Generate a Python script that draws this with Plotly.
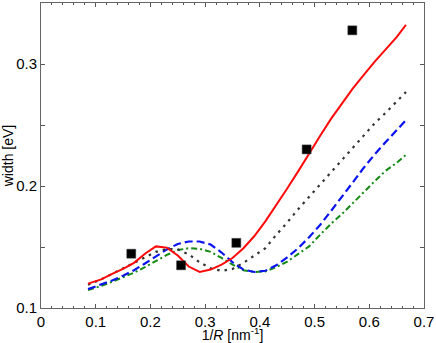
import plotly.graph_objects as go

x_curve = [0.086, 0.11, 0.13, 0.15, 0.17, 0.19, 0.21, 0.23, 0.25, 0.27, 0.29, 0.31,
           0.33, 0.35, 0.37, 0.39, 0.41, 0.43, 0.45, 0.47, 0.49, 0.51, 0.53, 0.55,
           0.57, 0.59, 0.61, 0.63, 0.65, 0.667]
red = [0.120, 0.1235, 0.128, 0.132, 0.137, 0.1445, 0.1505, 0.1495, 0.143, 0.134, 0.1295, 0.1315,
       0.1355, 0.141, 0.149, 0.159, 0.171, 0.184, 0.198, 0.212, 0.227, 0.241, 0.255, 0.268,
       0.280, 0.291, 0.302, 0.312, 0.322, 0.332]
black = [0.119, 0.1235, 0.128, 0.1325, 0.137, 0.1415, 0.146, 0.1485, 0.148, 0.144, 0.1375, 0.1325,
         0.1305, 0.132, 0.137, 0.143, 0.149, 0.160, 0.170, 0.181, 0.191, 0.201, 0.211, 0.221,
         0.231, 0.2415, 0.2515, 0.260, 0.269, 0.277]
blue = [0.1155, 0.119, 0.1225, 0.1265, 0.131, 0.1365, 0.1425, 0.148, 0.1525, 0.1545, 0.1545, 0.152,
        0.1455, 0.1375, 0.1315, 0.1295, 0.1305, 0.135, 0.1415, 0.149, 0.158, 0.168, 0.1795, 0.191,
        0.203, 0.215, 0.226, 0.236, 0.2455, 0.254]
green = [0.1148, 0.118, 0.1215, 0.125, 0.129, 0.1335, 0.1385, 0.1435, 0.1475, 0.149, 0.1485, 0.146,
         0.141, 0.1355, 0.131, 0.1295, 0.130, 0.1335, 0.138, 0.144, 0.1505, 0.160, 0.169, 0.177,
         0.186, 0.1955, 0.204, 0.2125, 0.219, 0.2255]

x_exp = [0.165, 0.256, 0.357, 0.4855, 0.569]
y_exp = [0.1445, 0.135, 0.1534, 0.230, 0.3276]

x_ticks = [0, 0.1, 0.2, 0.3, 0.4, 0.5, 0.6, 0.7]
x_ticklabels = ["0", "0.1", "0.2", "0.3", "0.4", "0.5", "0.6", "0.7"]
y_ticks = [0.1, 0.15, 0.2, 0.25, 0.3, 0.35]
y_ticklabels = ["0.1", "", "0.2", "", "0.3", ""]

FONT = "Liberation Sans, Arial, sans-serif"

fig = go.Figure()
fig.add_trace(go.Scatter(x=x_curve, y=green, mode="lines",
                         line=dict(color="#138a13", width=2, dash="6px,3px,2px,3px")))
fig.add_trace(go.Scatter(x=x_curve, y=blue, mode="lines",
                         line=dict(color="#0a14f0", width=2.2, dash="8px,4px")))
fig.add_trace(go.Scatter(x=x_curve, y=black, mode="lines",
                         line=dict(color="#333333", width=2.2, dash="2.5px,5px")))
fig.add_trace(go.Scatter(x=x_curve, y=red, mode="lines",
                         line=dict(color="#ff0a0a", width=2)))
fig.add_trace(go.Scatter(x=x_exp, y=y_exp, mode="markers",
                         marker=dict(symbol="square", size=9, color="black",
                                     line=dict(color="#444", width=0.5))))

axis_common = dict(showgrid=False, zeroline=False, showline=True, linecolor="#666666",
                   linewidth=1, mirror="ticks", ticks="inside", tickcolor="#555555",
                   ticklabeloverflow="allow",
                   tickfont=dict(family=FONT, size=15, color="black"))

fig.update_xaxes(range=[0, 0.7], tickvals=x_ticks, ticktext=x_ticklabels, ticklen=4,
                 minor=dict(ticks="inside", dtick=0.02, ticklen=2, tickcolor="#555555"),
                 title=dict(text="1/<i>R</i> [nm<sup>-1</sup>]", standoff=1,
                            font=dict(family=FONT, size=14, color="black")),
                 **axis_common)
fig.update_yaxes(range=[0.1, 0.35], tickvals=y_ticks, ticktext=y_ticklabels, ticklen=4,
                 title=dict(text="width [eV]", standoff=3,
                            font=dict(family=FONT, size=14, color="black")),
                 **axis_common)

fig.update_layout(width=436, height=343, showlegend=False,
                  margin=dict(l=41, r=10, t=2, b=34),
                  plot_bgcolor="white", paper_bgcolor="white")

fig.write_html("out.html", config={"displayModeBar": False},
               post_script="document.body.style.margin='0';")
